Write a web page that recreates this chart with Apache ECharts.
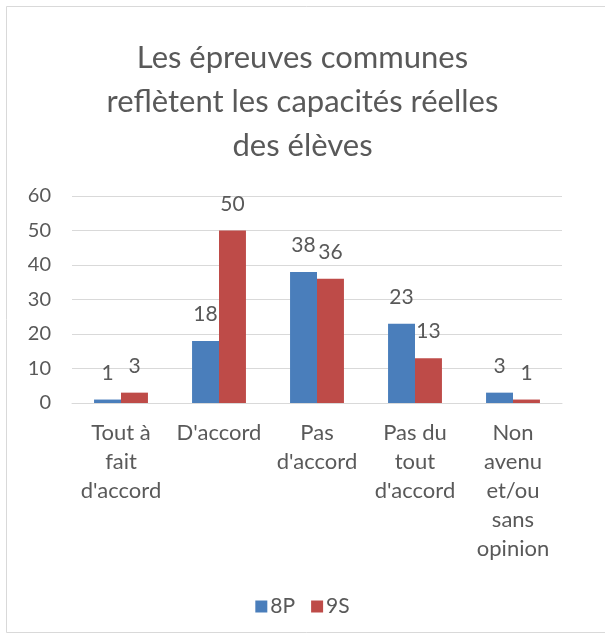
<!DOCTYPE html>
<html><head><meta charset="utf-8">
<script src="https://cdn.jsdelivr.net/npm/echarts@6/dist/echarts.min.js"></script>
<style>html,body{margin:0;padding:0;background:#fff}#c{width:605px;height:635px}</style>
</head><body><div id="c"></div>
<script>
const titleText = "Les épreuves communes\nreflètent les capacités réelles\ndes élèves";
const categories = ["Tout à fait d'accord", "D'accord", "Pas d'accord", "Pas du tout d'accord", "Non avenu et/ou sans opinion"];
const categoryLines = ["Tout à\nfait\nd'accord", "D'accord", "Pas\nd'accord", "Pas du\ntout\nd'accord", "Non\navenu\net/ou\nsans\nopinion"];
const series8P = [1, 18, 38, 23, 3];
const series9S = [3, 50, 36, 13, 1];
const seriesNames = ["8P", "9S"];
const yTicks = [0, 10, 20, 30, 40, 50, 60];

const FONT = "Lato";
const TXT = "#595959";
const chart = echarts.init(document.getElementById('c'), null, {renderer: 'canvas'});
chart.setOption({
  backgroundColor: '#fff',
  animation: false,
  textStyle: {fontFamily: FONT},
  graphic: [{type: 'rect', shape: {x: 6.5, y: 6.5, width: 604, height: 626}, style: {fill: 'none', stroke: '#d9d9d9', lineWidth: 1}}],
  title: {
    text: titleText, left: 'center', top: 31,
    textStyle: {fontFamily: FONT, fontSize: 31, fontWeight: 'normal', color: TXT, lineHeight: 44}
  },
  legend: {
    data: seriesNames, top: 591, left: 'center', itemWidth: 12, itemHeight: 12, itemGap: 16,
    icon: 'rect', textStyle: {fontFamily: FONT, fontSize: 21, color: TXT, padding: [0, 0, 0, -2]}
  },
  grid: {left: 72, right: 43, top: 196, bottom: 232},
  xAxis: {
    type: 'category', data: categories,
    axisLine: {lineStyle: {color: '#d9d9d9', width: 1}},
    axisTick: {show: false},
    axisLabel: {
      interval: 0, margin: 15, fontFamily: FONT, fontSize: 22, color: TXT, lineHeight: 29,
      formatter: (v, i) => categoryLines[i]
    }
  },
  yAxis: {
    type: 'value', min: yTicks[0], max: yTicks[yTicks.length - 1], interval: 10,
    axisLine: {show: false}, axisTick: {show: false},
    splitLine: {lineStyle: {color: '#d9d9d9', width: 1}},
    axisLabel: {margin: 21, fontFamily: FONT, fontSize: 20, color: TXT}
  },
  series: [
    {name: seriesNames[0], type: 'bar', data: series8P, barGap: '0%', barCategoryGap: '45%',
     itemStyle: {color: '#4a7ebb'},
     label: {show: true, position: 'top', distance: 16, fontFamily: FONT, fontSize: 21, color: TXT}},
    {name: seriesNames[1], type: 'bar', data: series9S, barGap: '0%', barCategoryGap: '45%',
     itemStyle: {color: '#be4b48'},
     label: {show: true, position: 'top', distance: 16, fontFamily: FONT, fontSize: 21, color: TXT}}
  ]
});
</script></body></html>
